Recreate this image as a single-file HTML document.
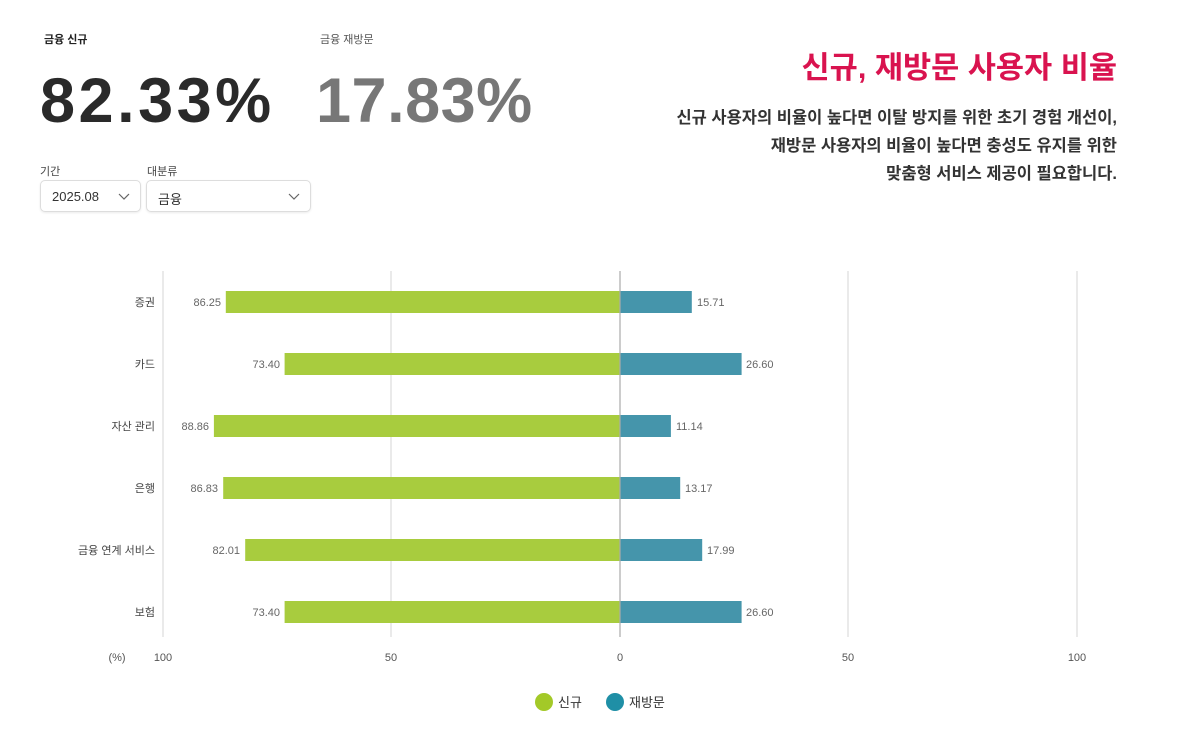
<!DOCTYPE html>
<html><head><meta charset="utf-8"><style>
body{margin:0;width:1200px;height:738px;background:#fff;font-family:"Liberation Sans","Noto Sans CJK KR",sans-serif;position:relative;overflow:hidden}
.a{position:absolute;white-space:nowrap}
.sel{position:absolute;border:1px solid #ddd;border-radius:5px;box-shadow:0 1px 2px rgba(0,0,0,.08);font-size:13px;color:#333;box-sizing:border-box}
</style></head><body>
<div class="a" style="left:44px;top:31px;font-size:11px;font-weight:bold;color:#222">금융 신규</div>
<div class="a" style="left:320px;top:31px;font-size:11px;color:#555">금융 재방문</div>
<div class="a" style="left:40px;top:65px;font-size:63px;font-weight:bold;color:#2a2a2a;letter-spacing:3.5px">82.33%</div>
<div class="a" style="left:316px;top:65px;font-size:63px;font-weight:bold;color:#777;letter-spacing:0.5px">17.83%</div>
<div class="a" style="left:40px;top:163px;font-size:11px;color:#444">기간</div>
<div class="a" style="left:147px;top:163px;font-size:11px;color:#444">대분류</div>
<div class="sel" style="left:40px;top:180px;width:101px;height:32px"><span class="a" style="left:11px;top:8px">2025.08</span><svg class="a" style="left:77px;top:12px" width="12" height="8"><polyline points="1,1 6,6 11,1" fill="none" stroke="#666" stroke-width="1.2"/></svg></div>
<div class="sel" style="left:146px;top:180px;width:165px;height:32px"><span class="a" style="left:11px;top:8px">금융</span><svg class="a" style="left:141px;top:12px" width="12" height="8"><polyline points="1,1 6,6 11,1" fill="none" stroke="#666" stroke-width="1.2"/></svg></div>
<div class="a" style="right:83px;top:43px;font-size:30.6px;font-weight:bold;color:#d9134f">신규, 재방문 사용자 비율</div>
<div class="a" style="right:83px;top:104px;font-size:16.5px;font-weight:bold;color:#333;text-align:right;line-height:28px">신규 사용자의 비율이 높다면 이탈 방지를 위한 초기 경험 개선이,<br>재방문 사용자의 비율이 높다면 충성도 유지를 위한<br>맞춤형 서비스 제공이 필요합니다.</div>
<svg class="a" style="left:0;top:0" width="1200" height="738" font-family="Liberation Sans, Noto Sans CJK KR, sans-serif">
<g stroke="#ddd" stroke-width="1.2">
<line x1="163" y1="271" x2="163" y2="637"/><line x1="391" y1="271" x2="391" y2="637"/><line x1="848" y1="271" x2="848" y2="637"/><line x1="1077" y1="271" x2="1077" y2="637"/>
</g>
<g fill="#a8cc3e">
<rect x="225.8" y="291" width="394.2" height="22"/><rect x="284.6" y="353" width="335.4" height="22"/><rect x="213.9" y="415" width="406.1" height="22"/><rect x="223.2" y="477" width="396.8" height="22"/><rect x="245.2" y="539" width="374.8" height="22"/><rect x="284.6" y="601" width="335.4" height="22"/>
</g>
<g fill="#4595ab">
<rect x="620" y="291" width="71.8" height="22"/><rect x="620" y="353" width="121.6" height="22"/><rect x="620" y="415" width="50.9" height="22"/><rect x="620" y="477" width="60.2" height="22"/><rect x="620" y="539" width="82.2" height="22"/><rect x="620" y="601" width="121.6" height="22"/>
</g>
<line x1="620" y1="271" x2="620" y2="637" stroke="#aaa" stroke-width="1.2"/>
<g font-size="11" fill="#444" text-anchor="end">
<text x="155" y="306">증권</text><text x="155" y="368">카드</text><text x="155" y="430">자산 관리</text><text x="155" y="492">은행</text><text x="155" y="554">금융 연계 서비스</text><text x="155" y="616">보험</text>
</g>
<g font-size="11" fill="#666" text-anchor="end">
<text x="221" y="306">86.25</text><text x="280" y="368">73.40</text><text x="209" y="430">88.86</text><text x="218" y="492">86.83</text><text x="240" y="554">82.01</text><text x="280" y="616">73.40</text>
</g>
<g font-size="11" fill="#666">
<text x="697" y="306">15.71</text><text x="746" y="368">26.60</text><text x="676" y="430">11.14</text><text x="685" y="492">13.17</text><text x="707" y="554">17.99</text><text x="746" y="616">26.60</text>
</g>
<g font-size="11" fill="#555" text-anchor="middle">
<text x="117" y="661">(%)</text><text x="163" y="661">100</text><text x="391" y="661">50</text><text x="620" y="661">0</text><text x="848" y="661">50</text><text x="1077" y="661">100</text>
</g>
<circle cx="544" cy="702" r="9" fill="#a3c928"/><text x="558" y="707" font-size="13" fill="#333">신규</text>
<circle cx="615" cy="702" r="9" fill="#1f8fa6"/><text x="629" y="707" font-size="13" fill="#333">재방문</text>
</svg>
</body></html>
